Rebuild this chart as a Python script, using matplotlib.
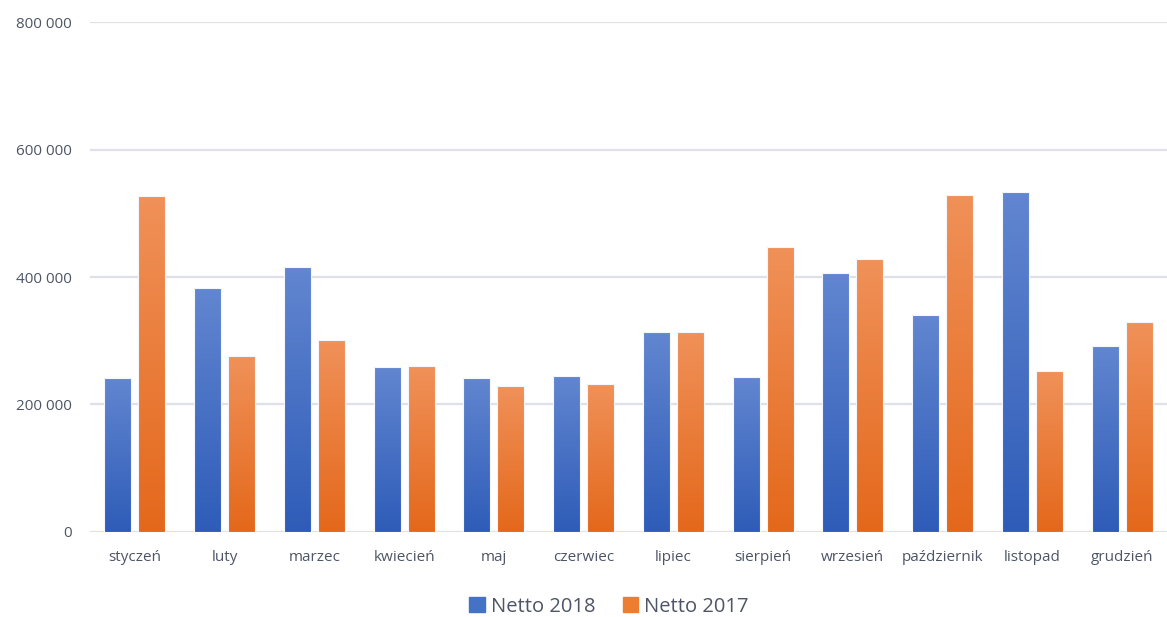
import numpy as np
import matplotlib.pyplot as plt
from matplotlib.colors import LinearSegmentedColormap
from matplotlib.patches import Patch

# months and net values
months = ['styczeń', 'luty', 'marzec', 'kwiecień', 'maj', 'czerwiec',
          'lipiec', 'sierpień', 'wrzesień', 'październik', 'listopad', 'grudzień']
netto_2018 = [242000, 382000, 416000, 259000, 242000, 245000,
              314000, 243000, 406000, 340000, 533000, 292000]
netto_2017 = [527000, 276000, 301000, 260000, 229000, 232000,
              314000, 447000, 428000, 529000, 253000, 329000]
y_ticks = [0, 200000, 400000, 600000, 800000]

plt.rcParams['font.family'] = ['Open Sans', 'DejaVu Sans']
text_col = '#4d5566'

fig = plt.figure(figsize=(11.67, 6.17), dpi=100)
ax = fig.add_axes([0.0771, 0.1378, 0.9229, 0.8265])

x = np.arange(len(months))
w = 0.30
off = 0.19

blue_cm = LinearSegmentedColormap.from_list('b', ['#2e5cb8', '#6286d0'])
orange_cm = LinearSegmentedColormap.from_list('o', ['#e4681b', '#f09159'])
grad = np.linspace(0, 1, 256).reshape(-1, 1)

def gradient_bars(xs, vals, cmap, label):
    bars = ax.bar(xs, vals, width=w, color='none', edgecolor='none', zorder=3, label=label)
    for b in bars:
        x0, y0 = b.get_x(), b.get_y()
        im = ax.imshow(grad, cmap=cmap, origin='lower', aspect='auto',
                       extent=[x0, x0 + b.get_width(), y0, y0 + b.get_height()],
                       zorder=3)
        im.set_clip_path(b)
    # thin light outline
    ax.bar(xs, vals, width=w, color='none', edgecolor='#f4f6fb', linewidth=0.8, zorder=4)

gradient_bars(x - off, netto_2018, blue_cm, 'Netto 2018')
gradient_bars(x + off, netto_2017, orange_cm, 'Netto 2017')

ax.set_xlim(-0.5, len(months) - 0.5)
ax.set_ylim(0, 800000)
ax.set_yticks(y_ticks)
ax.set_yticklabels([f'{v:,}'.replace(',', ' ') for v in y_ticks])
ax.set_xticks(x)
ax.set_xticklabels(months)
ax.grid(axis='y', color='#dfe1e8', linewidth=1.6, zorder=0)
ax.set_axisbelow(True)
for s in ax.spines.values():
    s.set_visible(False)
ax.tick_params(axis='both', length=0, labelsize=11, colors=text_col)
ax.tick_params(axis='x', pad=13)
ax.tick_params(axis='y', pad=13)

handles = [Patch(color='#4472c4'), Patch(color='#ed7d31')]
fig.legend(handles, ['Netto 2018', 'Netto 2017'], loc='center',
           bbox_to_anchor=(0.522, 0.017), ncol=2, frameon=False,
           fontsize=14.5, labelcolor=text_col, handlelength=0.75, handleheight=0.75,
           handletextpad=0.3, columnspacing=1.4)

fig.savefig('out.png', dpi=100, facecolor='white')
